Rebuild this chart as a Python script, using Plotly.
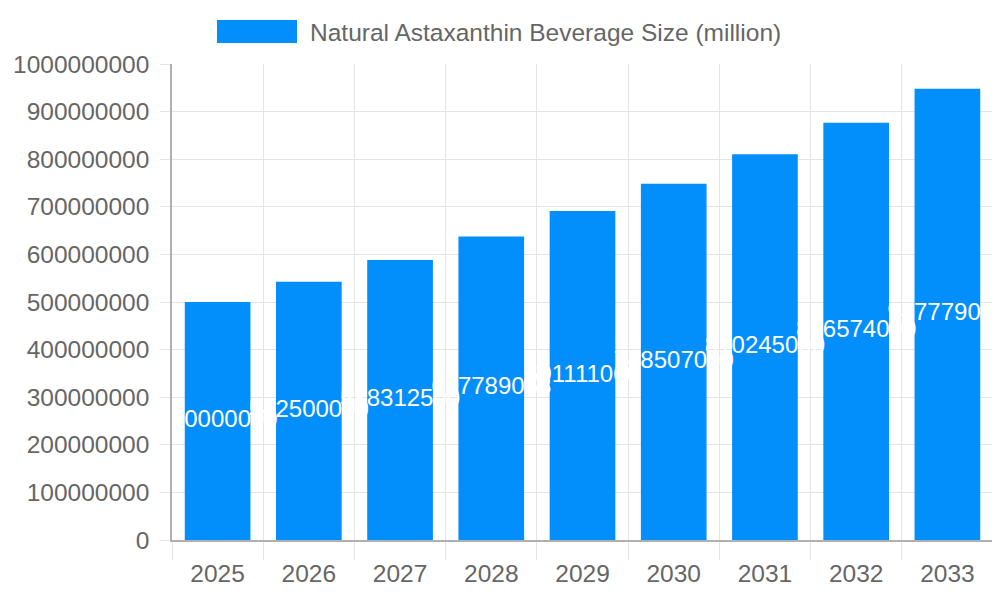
import plotly.graph_objects as go

# data
years = ["2025", "2026", "2027", "2028", "2029", "2030", "2031", "2032", "2033"]
beverage_size = [500000000, 542500000, 588312500, 637789063, 691111000,
                 748507000, 810245000, 876574000, 947779000]
series_name = "Natural Astaxanthin Beverage Size (million)"

bar_color = "#038FFB"
text_gray = "#666666"
grid_gray = "#e4e4e4"
axis_gray = "#b0b0b0"
font_family = "Liberation Sans, Arial"

fig = go.Figure()

fig.add_trace(go.Bar(
    x=years,
    y=beverage_size,
    name=series_name,
    marker=dict(color=bar_color, line=dict(width=0)),
    width=0.72,
    showlegend=False,
    hoverinfo="x+y",
))

# value labels sit at the middle of each bar and may spill past it
fig.add_trace(go.Scatter(
    x=years,
    y=[v / 2 for v in beverage_size],
    mode="text",
    text=[str(v) for v in beverage_size],
    textposition="middle center",
    textfont=dict(color="white", size=24, family=font_family),
    cliponaxis=False,
    showlegend=False,
    hoverinfo="skip",
))

# legend drawn by hand (box + label) to match the original look
fig.add_shape(type="rect", xref="paper", yref="paper",
              x0=(217 - 172) / 821, x1=(297 - 172) / 821,
              y0=(540 - 43) / 476, y1=(540 - 20) / 476,
              fillcolor=bar_color, line=dict(width=0))
fig.add_annotation(xref="paper", yref="paper",
                   x=(308 - 172) / 821, y=(540 - 32) / 476,
                   xanchor="left", yanchor="middle", showarrow=False,
                   text=series_name,
                   font=dict(size=24.5, color=text_gray, family=font_family))

# page body adds an 8px offset, margins account for it
fig.update_layout(
    width=1000,
    height=600,
    margin=dict(l=164, r=15, t=56, b=68),
    plot_bgcolor="white",
    paper_bgcolor="white",
    font=dict(family=font_family, size=24, color=text_gray),
)

fig.update_xaxes(
    type="category",
    automargin=False,
    tickson="boundaries",
    ticks="outside",
    ticklen=18,
    tickcolor=grid_gray,
    showgrid=True,
    gridcolor=grid_gray,
    gridwidth=1,
    showline=True,
    linecolor=axis_gray,
    linewidth=1.5,
    tickfont=dict(size=24.5, color=text_gray),
    ticklabelstandoff=11,
    range=[-0.5, 8.5],
)

fig.update_yaxes(
    range=[0, 1000000000],
    dtick=100000000,
    tickformat="d",
    automargin=False,
    ticks="outside",
    ticklen=10,
    tickcolor=grid_gray,
    showgrid=True,
    gridcolor=grid_gray,
    gridwidth=1,
    zeroline=False,
    showline=True,
    linecolor=axis_gray,
    linewidth=1.5,
    tickfont=dict(size=24.5, color=text_gray),
    ticklabelstandoff=6,
)

fig.write_html("out.html")
